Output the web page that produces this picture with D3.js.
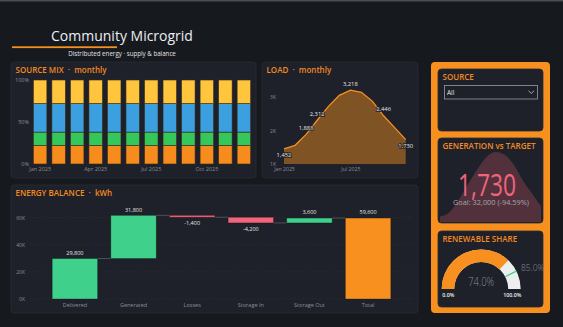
<!DOCTYPE html>
<html>
<head>
<meta charset="utf-8">
<script src="https://cdn.jsdelivr.net/npm/d3@7"></script>
<style>
  body { margin: 0; background: #16191e; }
  svg { display: block; font-family: "Open Sans", "Noto Sans", sans-serif; }
</style>
</head>
<body>
<div id="chart"></div>
<script>
// ---- data ----
var months = ["Jan 2025", "Feb 2025", "Mar 2025", "Apr 2025", "May 2025", "Jun 2025",
              "Jul 2025", "Aug 2025", "Sep 2025", "Oct 2025", "Nov 2025", "Dec 2025"];
var mixKeys = ["grid", "wind", "hydro", "solar"];
var gridShare  = [22, 22, 22, 22, 22, 22, 22, 22, 22, 22, 22, 22];
var windShare  = [16, 16, 16, 16, 16, 16, 16, 16, 16, 16, 16, 16];
var hydroShare = [34, 34, 34, 34, 34, 34, 34, 34, 34, 34, 34, 34];
var solarShare = [28, 28, 28, 28, 28, 28, 28, 28, 28, 28, 28, 28];
var mixTicks = [0, 50, 100];
var mixMonthTicks = ["Jan 2025", "Apr 2025", "Jul 2025", "Oct 2025"];

var loadVals = [1452, 1560, 1888, 2312, 2720, 3060, 3218, 3150, 2880, 2446, 2090, 1730];
var loadLabelIdx = [0, 2, 3, 6, 9, 11];
var loadTicks = [1000, 2000, 3000];
var loadMonthTicks = ["Jan 2025", "Jul 2025"];

var balanceSteps = ["Delivered", "Generated", "Losses", "Storage In", "Storage Out", "Total"];
var balanceVals = [29800, 31800, -1400, -4200, 3600, null];
var balanceTicks = [0, 20000, 40000, 60000];

var genValue = 1730;
var genGoal = 32000;
var renewableShare = 74.0;
var renewableTarget = 85.0;

// ---- colours ----
var ORANGE = "#f7901e", GREEN = "#3fd08c", PINK = "#f0647c";
var mixColor = d3.scaleOrdinal().domain(mixKeys).range(["#f78c1e", "#35c759", "#3b9fe0", "#ffc53d"]);
var PANEL = "#1e2129", AXIS = "#8b8e96";

var svg = d3.select("#chart").append("svg").attr("width", 563).attr("height", 327);
svg.append("rect").attr("width", 563).attr("height", 327).attr("fill", "#16191e");
svg.append("rect").attr("width", 563).attr("height", 1.5).attr("fill", "#4a4d54");

// header
svg.append("text").attr("x", 122).attr("y", 41).attr("text-anchor", "middle")
  .attr("fill", "#eceef2").attr("font-size", 14).attr("font-weight", 500)
  .text("Community Microgrid");
svg.append("rect").attr("x", 12).attr("y", 46.3).attr("width", 105).attr("height", 1.8).attr("fill", ORANGE);
svg.append("text").attr("x", 122).attr("y", 55.5).attr("text-anchor", "middle")
  .attr("fill", "#e0e2e6").attr("font-size", 6.2)
  .text("Distributed energy · supply & balance");

function card(x, y, w, h, title, sub) {
  svg.append("rect").attr("x", x).attr("y", y).attr("width", w).attr("height", h)
    .attr("rx", 3.5).attr("fill", PANEL).attr("stroke", "#2a2d35").attr("stroke-width", 0.8);
  var t = svg.append("text").attr("x", x + 4.5).attr("y", y + 10.5)
    .attr("fill", "#f28a22").attr("font-size", 8).attr("font-weight", 600);
  t.append("tspan").text(title);
  if (sub) t.append("tspan").text("\u00a0\u00a0·\u00a0\u00a0" + sub);
}

function styleAxis(g, size) {
  g.select(".domain").remove();
  g.selectAll("line").remove();
  g.selectAll("text").attr("fill", AXIS).attr("font-size", size || 5.5)
    .attr("font-family", "\"Open Sans\", sans-serif");
}

// ---- SOURCE MIX ----
card(11, 62, 245, 116, "SOURCE MIX", "monthly");
var mixRows = months.map(function (m, i) {
  return { month: m, grid: gridShare[i], wind: windShare[i], hydro: hydroShare[i], solar: solarShare[i] };
});
var stacked = d3.stack().keys(mixKeys)(mixRows);
var mx = d3.scaleBand().domain(months).range([31.5, 252.5]).paddingInner(0.27).paddingOuter(0.1);
var my = d3.scaleLinear().domain([0, 100]).range([164, 80]);

svg.append("g").selectAll("g").data(stacked).join("g")
  .attr("fill", function (d) { return mixColor(d.key); })
  .selectAll("rect").data(function (d) { return d; }).join("rect")
  .attr("x", function (d) { return mx(d.data.month); })
  .attr("y", function (d) { return my(d[1]); })
  .attr("width", mx.bandwidth())
  .attr("height", function (d) { return my(d[0]) - my(d[1]); })
  .attr("stroke", "#3a2a18").attr("stroke-width", 0.6);

svg.append("g").attr("transform", "translate(31,0)")
  .call(d3.axisLeft(my).tickValues(mixTicks).tickSize(0).tickPadding(2).tickFormat(function (d) { return d + "%"; }))
  .call(styleAxis);
svg.append("g").attr("transform", "translate(0,164)")
  .call(d3.axisBottom(mx).tickValues(mixMonthTicks).tickSize(0).tickPadding(3))
  .call(styleAxis);

// ---- LOAD ----
card(262, 62, 156, 116, "LOAD", "monthly");
var lx = d3.scalePoint().domain(months).range([284, 405.7]);
var ly = d3.scaleLinear().domain([1000, 3400]).range([164, 84]);
svg.append("path").datum(loadVals)
  .attr("fill", ORANGE).attr("fill-opacity", 0.45)
  .attr("d", d3.area().x(function (d, i) { return lx(months[i]); }).y0(ly(1000)).y1(function (d) { return ly(d); }));
svg.append("path").datum(loadVals)
  .attr("fill", "none").attr("stroke", ORANGE).attr("stroke-width", 1.3)
  .attr("d", d3.line().x(function (d, i) { return lx(months[i]); }).y(function (d) { return ly(d); }));
svg.append("g").selectAll("text").data(loadLabelIdx).join("text")
  .attr("x", function (i) { return lx(months[i]); })
  .attr("y", function (i) { return ly(loadVals[i]) + ((i === 0 || i === 11) ? 6.5 : -6.5); })
  .attr("dy", "0.35em").attr("text-anchor", "middle")
  .attr("font-size", 5.8).attr("fill", "#e6e6e6")
  .attr("stroke", "#1e2129").attr("stroke-width", 1.5).attr("paint-order", "stroke")
  .text(function (i) { return d3.format(",")(loadVals[i]); });
svg.append("g").attr("transform", "translate(276,0)")
  .call(d3.axisLeft(ly).tickValues(loadTicks).tickSize(0).tickPadding(0).tickFormat(function (d) { return (d / 1000) + "K"; }))
  .call(styleAxis, 5);
svg.append("g").attr("transform", "translate(0,164)")
  .call(d3.axisBottom(lx).tickValues(loadMonthTicks).tickSize(0).tickPadding(3.5))
  .call(styleAxis, 5.2);

// ---- ENERGY BALANCE ----
card(11, 185, 407, 128, "ENERGY BALANCE", "kWh");
var run = 0;
var steps = balanceSteps.map(function (s, i) {
  var v = balanceVals[i];
  if (v === null) return { name: s, start: 0, end: run, value: run, kind: "total" };
  var st = run;
  run += v;
  return { name: s, start: st, end: run, value: v, kind: v >= 0 ? "up" : "down" };
});
var bx = d3.scaleBand().domain(balanceSteps).range([39, 404]).paddingInner(0.225).paddingOuter(0.225);
var by = d3.scaleLinear().domain([0, 60000]).range([299, 217.5]);

svg.append("g").selectAll("line").data(balanceTicks).join("line")
  .attr("x1", 30).attr("x2", 412)
  .attr("y1", function (d) { return by(d); }).attr("y2", function (d) { return by(d); })
  .attr("stroke", "#33363e").attr("stroke-width", 0.6).attr("stroke-dasharray", "1,2");
svg.append("g").attr("transform", "translate(25,0)")
  .call(d3.axisLeft(by).tickValues(balanceTicks).tickSize(0).tickPadding(0).tickFormat(function (d) { return (d / 1000) + "K"; }))
  .call(styleAxis, 5);

svg.append("g").selectAll("line").data(steps.slice(0, -1)).join("line")
  .attr("x1", function (d) { return bx(d.name) + bx.bandwidth(); })
  .attr("x2", function (d, i) { return bx(steps[i + 1].name); })
  .attr("y1", function (d) { return by(d.end); }).attr("y2", function (d) { return by(d.end); })
  .attr("stroke", "#5a5d65").attr("stroke-width", 0.8);

var barColor = { up: GREEN, down: PINK, total: ORANGE };
svg.append("g").selectAll("rect").data(steps).join("rect")
  .attr("x", function (d) { return bx(d.name); })
  .attr("y", function (d) { return by(Math.max(d.start, d.end)); })
  .attr("width", bx.bandwidth())
  .attr("height", function (d) { return Math.abs(by(d.start) - by(d.end)); })
  .attr("fill", function (d) { return barColor[d.kind]; })
  .attr("stroke", "rgba(0,0,0,0.35)").attr("stroke-width", 0.8);

svg.append("g").selectAll("text").data(steps).join("text")
  .attr("x", function (d) { return bx(d.name) + bx.bandwidth() / 2; })
  .attr("y", function (d) {
    return d.kind === "down" ? by(Math.min(d.start, d.end)) + 6 : by(Math.max(d.start, d.end)) - 5.5;
  })
  .attr("dy", "0.35em").attr("text-anchor", "middle")
  .attr("font-size", 5.5).attr("fill", "#e6e6e6")
  .attr("stroke", "#1e2129").attr("stroke-width", 1.5).attr("paint-order", "stroke")
  .text(function (d) { return d3.format(",")(d.value).replace("−", "-"); });

svg.append("g").attr("transform", "translate(0,299)")
  .call(d3.axisBottom(bx).tickSize(0).tickPadding(4.5))
  .call(styleAxis, 5.5);

// ---- right column ----
svg.append("rect").attr("x", 431).attr("y", 62).attr("width", 119).attr("height", 251)
  .attr("rx", 4).attr("fill", ORANGE);

// SOURCE filter
card(438, 69, 105, 62, "SOURCE");
svg.append("rect").attr("x", 444.5).attr("y", 85.5).attr("width", 93).attr("height", 13.5)
  .attr("fill", PANEL).attr("stroke", "#9a9ca2").attr("stroke-width", 0.8);
svg.append("text").attr("x", 447).attr("y", 94.8).attr("fill", "#e8e8e8").attr("font-size", 6.5).text("All");
svg.append("path").attr("d", "M528.5,90.8 L531.3,93.4 L534.1,90.8")
  .attr("fill", "none").attr("stroke", "#c8c8c8").attr("stroke-width", 0.8);

// GENERATION vs TARGET
card(438, 138, 105, 85, "GENERATION vs TARGET");
svg.append("clipPath").attr("id", "genclip").append("rect")
  .attr("x", 438).attr("y", 138).attr("width", 105).attr("height", 85).attr("rx", 3.5);
var gx = d3.scalePoint().domain(months).range([440, 541]);
var gy = d3.scaleLinear().domain([1300, d3.max(loadVals)]).range([222, 152]);
svg.append("path").datum(loadVals).attr("clip-path", "url(#genclip)")
  .attr("fill", PINK).attr("fill-opacity", 0.25)
  .attr("d", d3.area().curve(d3.curveMonotoneX)
    .x(function (d, i) { return gx(months[i]); }).y0(222).y1(function (d) { return gy(d); }));
svg.append("text").attr("x", 487).attr("y", 196).attr("text-anchor", "middle")
  .attr("fill", PINK).attr("font-size", 31).attr("font-weight", 400)
  .attr("textLength", 58).attr("lengthAdjust", "spacingAndGlyphs")
  .text(d3.format(",")(genValue));
svg.append("text").attr("x", 491).attr("y", 205).attr("text-anchor", "middle")
  .attr("fill", "#a4a6ac").attr("font-size", 7.5)
  .attr("textLength", 76).attr("lengthAdjust", "spacingAndGlyphs")
  .text("Goal: " + d3.format(",")(genGoal) + " (" + ((genValue - genGoal) / genGoal * 100).toFixed(2) + "%)");

// RENEWABLE SHARE gauge
card(438, 231, 105, 76, "RENEWABLE SHARE");
var gs = d3.scaleLinear().domain([0, 100]).range([-Math.PI / 2, Math.PI / 2]);
var gauge = svg.append("g").attr("transform", "translate(481.2,289)");
var arc = d3.arc().innerRadius(27).outerRadius(39.5);
gauge.append("path").attr("fill", "#eeeeee")
  .attr("d", arc({ startAngle: gs(0), endAngle: gs(100) }));
gauge.append("path").attr("fill", ORANGE)
  .attr("d", arc({ startAngle: gs(0), endAngle: gs(renewableShare) }));
var ta = gs(renewableTarget);
gauge.append("line")
  .attr("x1", 27 * Math.sin(ta)).attr("y1", -27 * Math.cos(ta))
  .attr("x2", 39.5 * Math.sin(ta)).attr("y2", -39.5 * Math.cos(ta))
  .attr("stroke", GREEN).attr("stroke-width", 1.3);
gauge.append("text").attr("x", 0).attr("y", -3).attr("text-anchor", "middle")
  .attr("fill", "#8a8c92").attr("font-size", 12.5).attr("font-weight", 300)
  .attr("textLength", 26).attr("lengthAdjust", "spacingAndGlyphs")
  .text(renewableShare.toFixed(1) + "%");
gauge.append("text").attr("x", 51.5).attr("y", -18.2).attr("text-anchor", "middle")
  .attr("fill", "#8a8c92").attr("font-size", 8.5).attr("font-weight", 300)
  .text(renewableTarget.toFixed(1) + "%");
gauge.append("text").attr("x", -39).attr("y", 8).attr("fill", "#f0f0f0")
  .attr("font-size", 5.3).attr("font-weight", 600).text("0.0%");
gauge.append("text").attr("x", 22).attr("y", 8).attr("fill", "#f0f0f0")
  .attr("font-size", 5.3).attr("font-weight", 600).text("100.0%");
</script>
</body>
</html>
